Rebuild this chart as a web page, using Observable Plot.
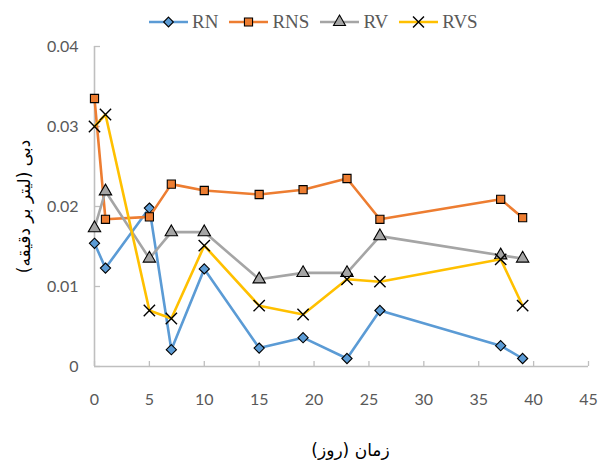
<!DOCTYPE html>
<html>
<head>
<meta charset="utf-8">
<script src="https://cdn.jsdelivr.net/npm/d3@7"></script>
<script src="https://cdn.jsdelivr.net/npm/@observablehq/plot@0.6"></script>
<style>
  html, body { margin: 0; padding: 0; background: #fff; }
  #wrap { position: relative; width: 600px; height: 461px; }
  #legend { position: absolute; top: 11px; left: 149px; display: flex; gap: 11px; align-items: center;
            font-family: "Liberation Serif", serif; font-size: 19px; color: #595959; }
  #legend .item { display: flex; align-items: center; gap: 4px; }
</style>
</head>
<body>
<div id="wrap"><div id="legend"></div></div>
<script>
const days = [0, 1, 5, 7, 10, 15, 19, 23, 26, 37, 39];
const RN  = [0.0154, 0.0123, 0.0198, 0.0021, 0.0122, 0.0023, 0.0036, 0.0010, 0.0070, 0.0026, 0.0010];
const RNS = [0.0335, 0.0184, 0.0187, 0.0228, 0.0220, 0.0215, 0.0221, 0.0235, 0.0184, 0.0209, 0.0186];
const RV  = [0.0173, 0.0219, 0.0135, 0.0168, 0.0168, 0.0109, 0.0117, 0.0117, 0.0163, 0.0139, 0.0135];
const RVS = [0.0300, 0.0315, 0.0070, 0.0060, 0.0151, 0.0076, 0.0065, 0.0109, 0.0106, 0.0134, 0.0076];
const seriesNames = ["RN", "RNS", "RV", "RVS"];
const xTicks = [0, 5, 10, 15, 20, 25, 30, 35, 40, 45];
const yTicks = [0, 0.01, 0.02, 0.03, 0.04];
const xTitle = "زمان (روز)";
const yTitle = "دبی (لیتر بر دقیقه)";

const values = {RN, RNS, RV, RVS};
const styles = {
  RN:  {line: "#5B9BD5", symbol: "diamond2", fill: "#5B9BD5", stroke: "#000", r: 4.6},
  RNS: {line: "#ED7D31", symbol: "square",   fill: "#ED7D31", stroke: "#000", r: 4.6},
  RV:  {line: "#A5A5A5", symbol: "triangle", fill: "#A5A5A5", stroke: "#000", r: 4.6},
  RVS: {line: "#FFC000", symbol: "times",    fill: "none",    stroke: "#000", r: 5.2}
};
const rows = s => days.map((d, i) => ({day: d, value: values[s][i]}));
const axisColor = "#bfbfbf";
const rlm = t => t + "\u200F";

const seriesMarks = seriesNames.flatMap(s => {
  const st = styles[s];
  return [
    Plot.line(rows(s), {x: "day", y: "value", stroke: st.line, strokeWidth: 2.6}),
    Plot.dot(rows(s), {x: "day", y: "value", symbol: () => st.symbol, r: st.r,
      fill: st.fill, stroke: st.stroke, strokeWidth: st.symbol === "times" ? 1.4 : 1.1})
  ];
});

const chart = Plot.plot({
  width: 600, height: 461,
  marginLeft: 94, marginRight: 12, marginTop: 46, marginBottom: 95,
  style: {fontFamily: "Lato, sans-serif", fontSize: "16px", color: "#595959", background: "#fff"},
  x: {domain: [0, 45]},
  y: {domain: [0, 0.04]},
  symbol: {type: "identity"},
  marks: [
    Plot.axisX(xTicks, {tickSize: 0, tickPadding: 27, label: null, tickFormat: d => String(d)}),
    Plot.axisY(yTicks, {tickSize: 0, tickPadding: 16, label: null, tickFormat: d => String(d)}),
    Plot.tickX(xTicks, {x: d => d, stroke: axisColor, strokeWidth: 1.3, insetTop: 315}),
    Plot.tickY(yTicks, {y: d => d, stroke: axisColor, strokeWidth: 1.3, insetRight: 488}),
    Plot.ruleX([0], {stroke: axisColor, strokeWidth: 1.6}),
    Plot.ruleY([0], {stroke: axisColor, strokeWidth: 1.6}),
    ...seriesMarks,
    Plot.text([yTitle], {text: d => rlm(d), frameAnchor: "left", textAnchor: "middle", dx: -70, rotate: -90,
      fontFamily: "DejaVu Sans", fontSize: 17, fill: "#000"}),
    Plot.text([xTitle], {text: d => rlm(d), frameAnchor: "bottom", textAnchor: "middle", dx: 9, dy: 89,
      fontFamily: "DejaVu Sans", fontSize: 17, fill: "#000"})
  ]
});
document.getElementById("wrap").appendChild(chart);

// legend
const legend = document.getElementById("legend");
const symPath = {
  RN: d3.symbol(d3.symbolDiamond2, 60)(),
  RNS: d3.symbol(d3.symbolSquare, 66)(),
  RV: d3.symbol(d3.symbolTriangle, 62)(),
  RVS: d3.symbol(d3.symbolTimes, 80)()
};
for (const s of seriesNames) {
  const st = styles[s];
  const item = document.createElement("div");
  item.className = "item";
  item.innerHTML =
    `<svg width="39" height="16"><line x1="0" x2="39" y1="8" y2="8" stroke="${st.line}" stroke-width="2.6"/>` +
    `<path transform="translate(19.5,8)" d="${symPath[s]}" fill="${st.fill}" stroke="${st.stroke}" stroke-width="${s === "RVS" ? 1.4 : 1.1}"/></svg>` +
    `<span>${s}</span>`;
  legend.appendChild(item);
}
</script>
</body>
</html>
